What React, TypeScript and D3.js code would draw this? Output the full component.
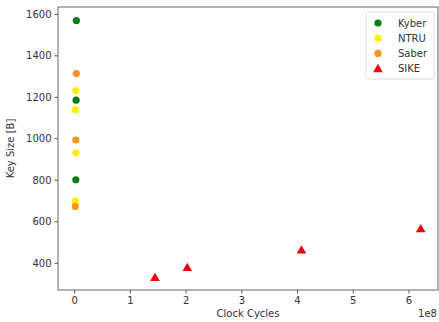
import { useRef, useEffect } from 'react';
import * as d3 from 'd3';

const kyberCycles = [0.04e8, 0.035e8, 0.03e8];
const kyberSizes = [1568, 1184, 800];
const ntruCycles = [0.03e8, 0.02e8, 0.03e8, 0.02e8];
const ntruSizes = [1230, 1138, 930, 699];
const saberCycles = [0.04e8, 0.03e8, 0.02e8];
const saberSizes = [1312, 992, 672];
const sikeCycles = [1.45e8, 2.03e8, 4.08e8, 6.22e8];
const sikeSizes = [330, 378, 462, 564];

const xTicks = [0, 1e8, 2e8, 3e8, 4e8, 5e8, 6e8];
const yTicks = [400, 600, 800, 1000, 1200, 1400, 1600];

const series = [
  { name: 'Kyber', color: '#0a7d12', shape: 'circle', xs: kyberCycles, ys: kyberSizes },
  { name: 'NTRU', color: '#ffee00', shape: 'circle', xs: ntruCycles, ys: ntruSizes },
  { name: 'Saber', color: '#f7961c', shape: 'circle', xs: saberCycles, ys: saberSizes },
  { name: 'SIKE', color: '#e8000b', shape: 'triangle', xs: sikeCycles, ys: sikeSizes },
];

export default function App() {
  const svgRef = useRef<SVGSVGElement>(null);

  useEffect(() => {
    if (!svgRef.current) return;
    const svg = d3.select(svgRef.current);
    svg.selectAll('*').remove();

    const width = 439;
    const height = 322;
    const margin = { top: 7, right: 1, bottom: 32, left: 58 };
    const textColor = '#333';
    const font = 'DejaVu Sans, sans-serif';

    const x = d3.scaleLinear().domain([-0.29e8, 6.53e8]).range([margin.left, width - margin.right]);
    const y = d3.scaleLinear().domain([269, 1633]).range([height - margin.bottom, margin.top]);

    svg.append('rect').attr('width', width).attr('height', height).attr('fill', '#fff');

    const xAxis = svg
      .append('g')
      .attr('transform', `translate(0,${height - margin.bottom})`)
      .call(
        d3.axisBottom(x).tickValues(xTicks).tickSize(3.5).tickPadding(3).tickFormat((d) => String(+d / 1e8))
      );
    const yAxis = svg
      .append('g')
      .attr('transform', `translate(${margin.left},0)`)
      .call(d3.axisLeft(y).tickValues(yTicks).tickSize(3.5).tickPadding(3).tickFormat(d3.format('d')));

    [xAxis, yAxis].forEach((a) => {
      a.select('.domain').remove();
      a.selectAll('line').attr('stroke', '#555');
      a.selectAll('text').attr('fill', textColor).attr('font-size', '10px').attr('font-family', font);
    });

    // frame
    svg
      .append('rect')
      .attr('x', margin.left)
      .attr('y', margin.top)
      .attr('width', width - margin.right - margin.left)
      .attr('height', height - margin.bottom - margin.top)
      .attr('fill', 'none')
      .attr('stroke', '#666')
      .attr('stroke-width', 1);

    const tri = d3.symbol().type(d3.symbolTriangle).size(40);

    series.forEach((s) => {
      const pts = s.xs.map((v, i) => [v, s.ys[i]] as [number, number]);
      if (s.shape === 'circle') {
        svg
          .append('g')
          .selectAll('circle')
          .data(pts)
          .enter()
          .append('circle')
          .attr('cx', (d) => x(d[0]))
          .attr('cy', (d) => y(d[1]))
          .attr('r', 3.6)
          .attr('fill', s.color);
      } else {
        svg
          .append('g')
          .selectAll('path')
          .data(pts)
          .enter()
          .append('path')
          .attr('d', tri()!)
          .attr('transform', (d) => `translate(${x(d[0])},${y(d[1]) + 0.8})`)
          .attr('fill', s.color);
      }
    });

    // legend
    const lg = svg.append('g').attr('transform', 'translate(366,12)');
    lg.append('rect')
      .attr('width', 68)
      .attr('height', 67)
      .attr('rx', 2)
      .attr('fill', '#fff')
      .attr('stroke', '#ddd');
    series.forEach((s, i) => {
      const cy = 11 + i * 15.2;
      if (s.shape === 'circle') {
        lg.append('circle').attr('cx', 12).attr('cy', cy).attr('r', 3.6).attr('fill', s.color);
      } else {
        lg.append('path').attr('d', tri()!).attr('transform', `translate(12,${cy + 0.8})`).attr('fill', s.color);
      }
      lg.append('text')
        .attr('x', 32)
        .attr('y', cy)
        .attr('dominant-baseline', 'central')
        .attr('fill', textColor)
        .attr('font-size', '10px')
        .attr('font-family', font)
        .text(s.name);
    });

    svg
      .append('text')
      .attr('x', (margin.left + width - margin.right) / 2)
      .attr('y', 317)
      .attr('text-anchor', 'middle')
      .attr('fill', textColor)
      .attr('font-size', '10px')
      .attr('font-family', font)
      .text('Clock Cycles');

    svg
      .append('text')
      .attr('x', 437)
      .attr('y', 317)
      .attr('text-anchor', 'end')
      .attr('fill', textColor)
      .attr('font-size', '10px')
      .attr('font-family', font)
      .text('1e8');

    svg
      .append('text')
      .attr('transform', `translate(14,${(margin.top + height - margin.bottom) / 2}) rotate(-90)`)
      .attr('text-anchor', 'middle')
      .attr('fill', textColor)
      .attr('font-size', '10px')
      .attr('font-family', font)
      .text('Key Size [B]');
  }, []);

  return (
    <svg
      ref={svgRef}
      width={439}
      height={322}
      style={{ position: 'absolute', left: 0, top: 0, display: 'block' }}
    />
  );
}
